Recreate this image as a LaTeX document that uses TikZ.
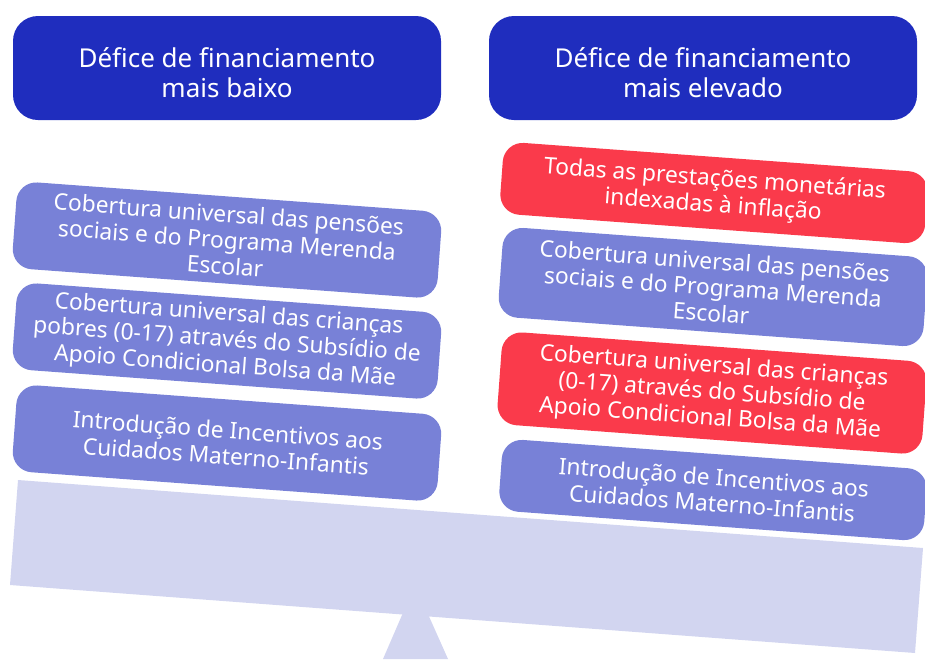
\documentclass[tikz,border=0pt]{standalone}
\usepackage{fontspec}
\setmainfont{Noto Sans}

\definecolor{headblue}{RGB}{31,45,190}
\definecolor{itemblue}{RGB}{120,129,215}
\definecolor{itemred}{RGB}{250,58,75}
\definecolor{beamgrey}{RGB}{210,213,240}

\begin{document}
\begin{tikzpicture}[x=1pt,y=-1pt,
  head/.style={fill=headblue,text=white,rounded corners=25pt,minimum width=428pt,
    minimum height=104pt,align=center,font=\fontsize{26}{30}\selectfont},
  item/.style={rotate=-4.2,rounded corners=20pt,minimum width=426pt,inner sep=0pt,
    text=white,align=center,font=\fontsize{22.8}{26}\selectfont},
  low/.style={item,fill=itemblue},
  high/.style={item,fill=itemred}]

\useasboundingbox (0,0) rectangle (925,659);

% balance
\fill[color=beamgrey] (415,585) -- (383,659) -- (448,659) -- cycle;
\fill[color=beamgrey] (18,480) -- (923,548) -- (915,653) -- (10,585) -- cycle;

\node[head] (lowhead) at (227,68) {\rule{0pt}{29pt}Défice de financiamento\\mais baixo};
\node[head] (highhead) at (703,68) {\rule{0pt}{29pt}Défice de financiamento\\mais elevado};

\node[low,minimum height=87pt] (lowA) at (227,240)
  {Cobertura universal das pensões\\sociais e do Programa Merenda\\Escolar};
\node[low,minimum height=87pt] (lowB) at (227,341)
  {Cobertura universal das crianças\\pobres (0-17) através do Subsídio de\\Apoio Condicional Bolsa da Mãe};
\node[low,minimum height=87pt] (lowC) at (227,443)
  {Introdução de Incentivos aos\\Cuidados Materno-Infantis};

\node[high,minimum height=72pt] (highA) at (714,193)
  {Todas as prestações monetárias\\indexadas à inflação};
\node[low,minimum height=90pt] (highB) at (713,287)
  {Cobertura universal das pensões\\sociais e do Programa Merenda\\Escolar};
\node[high,minimum height=93pt] (highC) at (712,393)
  {Cobertura universal das crianças\\(0-17) através do Subsídio de\\Apoio Condicional Bolsa da Mãe};
\node[low,minimum height=72pt] (highD) at (713,490)
  {Introdução de Incentivos aos\\Cuidados Materno-Infantis};

\end{tikzpicture}
\end{document}
